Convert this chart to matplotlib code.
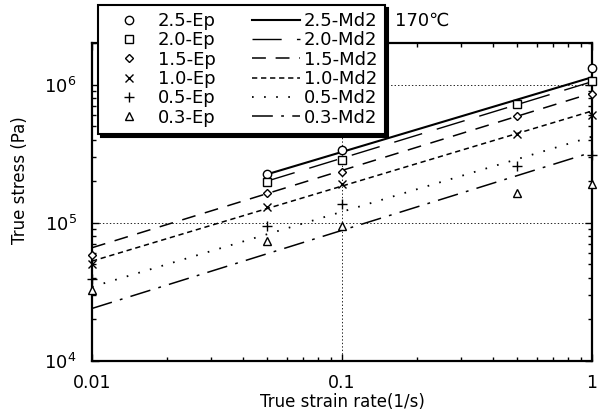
import numpy as np
import matplotlib
matplotlib.use("Agg")
import matplotlib.pyplot as plt
from matplotlib.ticker import FixedLocator, FixedFormatter, LogLocator, NullFormatter

plt.rcParams['font.family'] = ['DejaVu Sans', 'Noto Sans CJK JP']
plt.rcParams['lines.scale_dashes'] = False

# measured points (strain rate 1/s, true stress Pa); nan = not measured
rate = [0.01, 0.05, 0.1, 0.5, 1.0]
labels = ['2.5', '2.0', '1.5', '1.0', '0.5', '0.3']
ep_25 = [np.nan, 224e3, 335e3, np.nan, 1.32e6]
ep_20 = [np.nan, 198e3, 283e3, 719e3, 1.07e6]
ep_15 = [58.3e3, 164e3, 233e3, 589e3, 859e3]
ep_10 = [50.0e3, 130e3, 192e3, 442e3, 599e3]
ep_05 = [39.1e3, 95e3, 136e3, 256e3, 308e3]
ep_03 = [32.6e3, 73.6e3, 94.4e3, 163e3, 192e3]

# Md2 model lines (power law, straight on log-log), end points
md2_rate = [[0.05, 1.0], [0.05, 1.0], [0.01, 1.0], [0.01, 1.0], [0.01, 1.0], [0.01, 1.0]]
md2_25 = [224e3, 1.13e6]
md2_20 = [200e3, 1.05e6]
md2_15 = [66e3, 868e3]
md2_10 = [52.8e3, 644e3]
md2_05 = [34.4e3, 420e3]
md2_03 = [24.0e3, 324e3]

ep_sets = [ep_25, ep_20, ep_15, ep_10, ep_05, ep_03]
md2_sets = [md2_25, md2_20, md2_15, md2_10, md2_05, md2_03]

markers = ['o', 's', 'D', 'x', '+', '^']
msizes = [6, 6, 4.5, 6, 7, 6]
styles = ['-', (0, (21, 11)), (0, (10, 7)), (0, (3.8, 2.7)),
          (0, (1.2, 7.5)), (0, (15, 6, 2, 6))]
widths = [1.5, 1.0, 1.1, 1.1, 1.3, 1.1]

fig = plt.figure(figsize=(6, 4.15), dpi=100)
ax = fig.add_axes([92/600, 1-361/415, 500/600, 318/415])

ep_handles = []
for lab, ys, m, ms in zip(labels, ep_sets, markers, msizes):
    h, = ax.plot(rate, ys, linestyle='none', marker=m, markersize=ms,
                 markerfacecolor='white', markeredgecolor='black',
                 markeredgewidth=1.0, color='black', clip_on=False, zorder=4,
                 label=lab + '-Ep')
    ep_handles.append(h)

md2_handles = []
for lab, xs, ys, ls, lw in zip(labels, md2_rate, md2_sets, styles, widths):
    h, = ax.plot(xs, ys, color='black', linestyle=ls, linewidth=lw,
                 label=lab + '-Md2', zorder=3)
    md2_handles.append(h)

ax.set_xscale('log')
ax.set_yscale('log')
ax.set_xlim(0.01, 1)
ax.set_ylim(1e4, 2e6)

ax.xaxis.set_major_locator(FixedLocator([0.01, 0.1, 1]))
ax.xaxis.set_major_formatter(FixedFormatter(['0.01', '0.1', '1']))
ax.xaxis.set_minor_locator(LogLocator(base=10, subs=np.arange(2, 10)))
ax.xaxis.set_minor_formatter(NullFormatter())
ax.yaxis.set_minor_locator(LogLocator(base=10, subs=np.arange(2, 10)))
ax.yaxis.set_minor_formatter(NullFormatter())

ax.tick_params(which='both', direction='in', top=True, right=True, width=1.0)
ax.tick_params(which='major', length=5)
ax.tick_params(which='minor', length=3)
ax.tick_params(axis='x', labelsize=12.5, pad=9)
ax.tick_params(axis='y', labelsize=13, pad=11)
for sp in ax.spines.values():
    sp.set_linewidth(1.6)

ax.grid(True, which='major', linestyle=(0, (1, 1.5)), color='black', linewidth=0.6)

ax.set_xlabel('True strain rate(1/s)', fontsize=12, labelpad=1)
ax.set_ylabel('True stress (Pa)', fontsize=12)
ax.yaxis.set_label_coords(-0.126, 0.57)

fig.text(395/600, 1-21/415, '170\u2103', fontsize=13, ha='left', va='center')

leg = fig.legend(handles=ep_handles + md2_handles, ncol=2,
                 loc='upper left', bbox_to_anchor=(98/600, 1-5/415),
                 borderaxespad=0, fontsize=13, handlelength=2.65,
                 handletextpad=0.25, columnspacing=2.0, labelspacing=0.07,
                 borderpad=0.4, fancybox=False, framealpha=1,
                 edgecolor='black', shadow={'color': 'black', 'alpha': 1})
leg.get_frame().set_linewidth(1.5)

fig.savefig('out.png', dpi=100)
